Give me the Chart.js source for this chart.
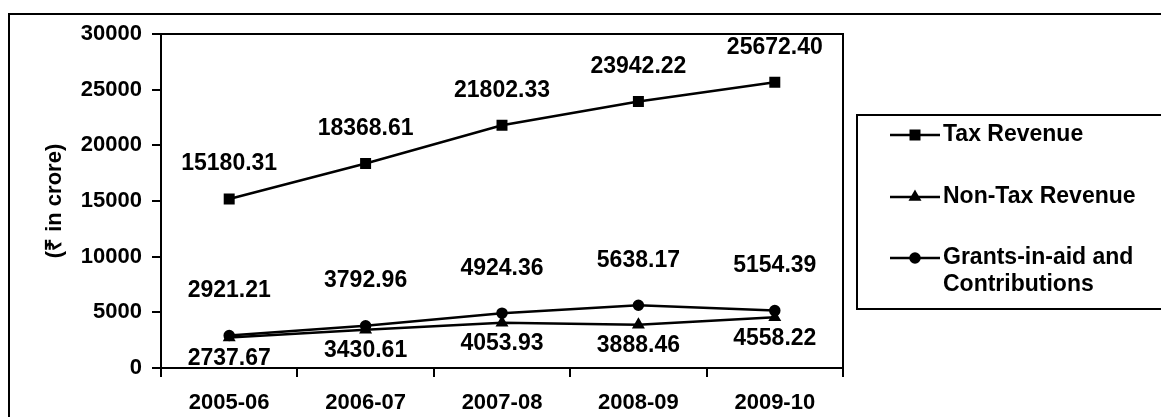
<!DOCTYPE html>
<html>
<head>
<meta charset="utf-8">
<script src="https://cdn.jsdelivr.net/npm/chart.js@4.4.0/dist/chart.umd.min.js"></script>
<style>
  html, body { margin: 0; padding: 0; background: #fff; }
  #wrap { width: 1161px; height: 417px; }
</style>
</head>
<body>
<div id="wrap"><canvas id="grafico" width="1161" height="417"></canvas></div>
<script>
// Datos (₹ in crore)
const years = ['2005-06', '2006-07', '2007-08', '2008-09', '2009-10'];
const taxRevenue = [15180.31, 18368.61, 21802.33, 23942.22, 25672.40];
const nonTaxRevenue = [2737.67, 3430.61, 4053.93, 3888.46, 4558.22];
const grants = [2921.21, 3792.96, 4924.36, 5638.17, 5154.39];
const yMin = 0;
const yMax = 30000;
const yStep = 5000;

const fuente = '"Liberation Sans", Arial, sans-serif';
const negro = '#000';

// marco exterior y borde del area de trazado
const marcos = {
  id: 'marcos',
  beforeDraw(chart) {
    const ctx = chart.ctx;
    ctx.save();
    ctx.fillStyle = '#fff';
    ctx.fillRect(0, 0, chart.width, chart.height);
    ctx.strokeStyle = negro;
    ctx.lineWidth = 2;
    ctx.beginPath();
    ctx.moveTo(9, chart.height);
    ctx.lineTo(9, 14);
    ctx.lineTo(chart.width, 14);
    ctx.stroke();
    ctx.restore();
  },
  beforeDatasetsDraw(chart) {
    const { ctx, chartArea: a } = chart;
    ctx.save();
    ctx.strokeStyle = negro;
    ctx.lineWidth = 2;
    ctx.beginPath();
    ctx.moveTo(a.left, a.top);
    ctx.lineTo(a.right, a.top);
    ctx.lineTo(a.right, a.bottom);
    ctx.stroke();
    ctx.restore();
  }
};

// valores encima / debajo de cada punto
const etiquetas = {
  id: 'etiquetas',
  afterDatasetsDraw(chart) {
    const ctx = chart.ctx;
    ctx.save();
    ctx.font = 'bold 23px ' + fuente;
    ctx.fillStyle = negro;
    ctx.textAlign = 'center';
    ctx.textBaseline = 'middle';
    chart.data.datasets.forEach((ds, i) => {
      chart.getDatasetMeta(i).data.forEach((pt, j) => {
        ctx.fillText(ds.data[j].toFixed(2), pt.x, pt.y + ds.labelOffset);
      });
    });
    ctx.restore();
  }
};

// leyenda en caja a la derecha
const leyenda = {
  id: 'leyenda',
  afterDraw(chart) {
    const ctx = chart.ctx;
    const filas = [135, 197, 258];
    ctx.save();
    ctx.strokeStyle = negro;
    ctx.lineWidth = 2;
    ctx.strokeRect(857, 115, 400, 194);
    ctx.font = 'bold 23px ' + fuente;
    ctx.fillStyle = negro;
    ctx.textAlign = 'left';
    ctx.textBaseline = 'middle';
    chart.data.datasets.forEach((ds, i) => {
      const y = filas[i];
      ctx.beginPath();
      ctx.moveTo(890, y);
      ctx.lineTo(940, y);
      ctx.lineWidth = 2.5;
      ctx.stroke();
      Chart.helpers.drawPoint(ctx, {
        pointStyle: ds.pointStyle,
        radius: ds.pointRadius,
        rotation: 0,
        borderWidth: 1
      }, 915, y);
      const lineas = [].concat(ds.label);
      lineas.forEach((t, k) => ctx.fillText(t, 943, y + k * 27));
    });
    ctx.restore();
  }
};

const ctx = document.getElementById('grafico').getContext('2d');
new Chart(ctx, {
  type: 'line',
  data: {
    labels: years,
    datasets: [
      {
        label: 'Tax Revenue',
        data: taxRevenue,
        borderColor: negro,
        backgroundColor: negro,
        borderWidth: 2.5,
        pointStyle: 'rect',
        pointRadius: 6,
        labelOffset: -35
      },
      {
        label: 'Non-Tax Revenue',
        data: nonTaxRevenue,
        borderColor: negro,
        backgroundColor: negro,
        borderWidth: 2.5,
        pointStyle: 'triangle',
        pointRadius: 5,
        labelOffset: 21
      },
      {
        label: ['Grants-in-aid and', 'Contributions'],
        data: grants,
        borderColor: negro,
        backgroundColor: negro,
        borderWidth: 2.5,
        pointStyle: 'circle',
        pointRadius: 4.5,
        labelOffset: -45
      }
    ]
  },
  options: {
    responsive: false,
    animation: false,
    layout: { padding: { top: 34, right: 318, left: 0, bottom: 0 } },
    plugins: {
      legend: { display: false },
      tooltip: { enabled: false }
    },
    scales: {
      x: {
        offset: true,
        grid: { offset: true, drawOnChartArea: false, tickLength: 9, color: negro, lineWidth: 2 },
        border: { color: negro, width: 2 },
        ticks: { color: negro, font: { family: fuente, size: 22, weight: 'bold' }, padding: 13, maxRotation: 0 },
        afterFit(scale) { scale.height = 49; }
      },
      y: {
        min: yMin,
        max: yMax,
        grid: { drawOnChartArea: false, tickLength: 9, color: negro, lineWidth: 2 },
        border: { color: negro, width: 2 },
        ticks: {
          stepSize: yStep,
          color: negro,
          font: { family: fuente, size: 22, weight: 'bold' },
          padding: 10,
          callback: (v) => String(v)
        },
        title: {
          display: true,
          text: '(₹ in crore)',
          color: negro,
          font: { family: fuente, size: 22, weight: 'bold' },
          padding: { top: 42, bottom: 0 }
        },
        afterFit(scale) { scale.width = 161; }
      }
    }
  },
  plugins: [marcos, etiquetas, leyenda]
});
</script>
</body>
</html>
